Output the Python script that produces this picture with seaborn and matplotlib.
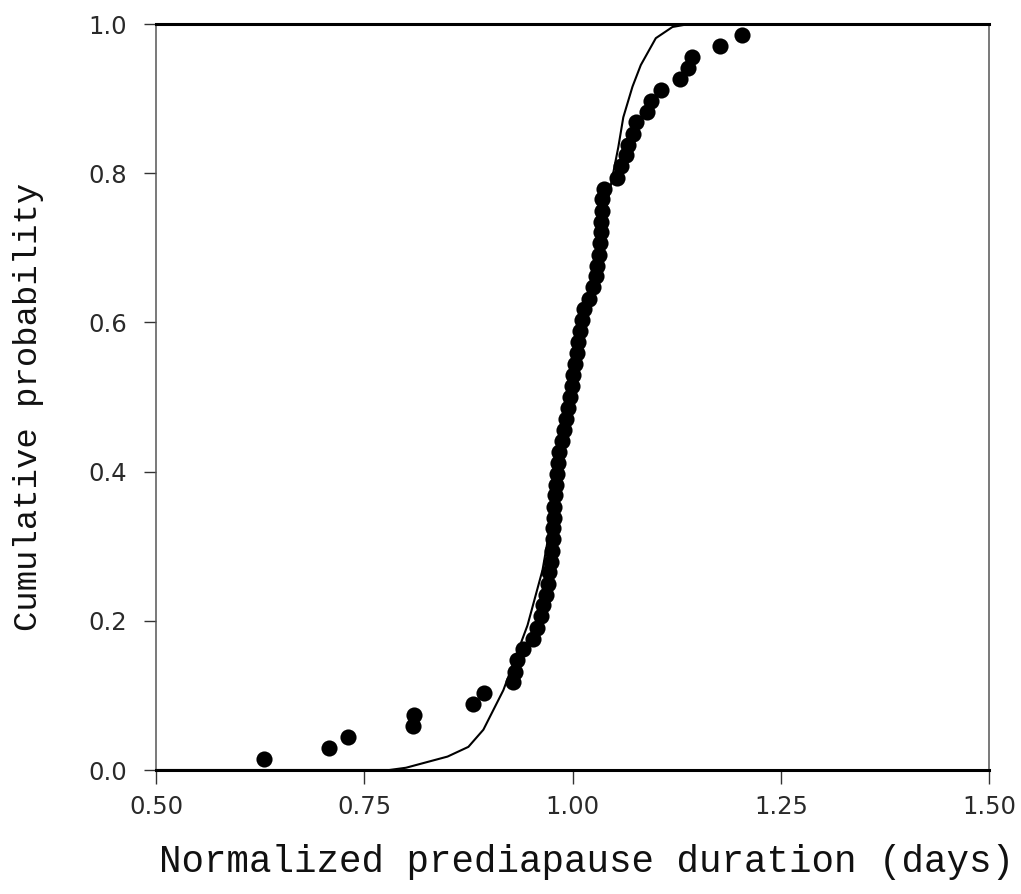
import numpy as np
import pandas as pd
import matplotlib
matplotlib.use("Agg")
import matplotlib.pyplot as plt
import seaborn as sns

# Observed normalized prediapause durations (ranked) and their cumulative probabilities
duration = [0.630, 0.708, 0.730, 0.809, 0.810, 0.880, 0.894, 0.928, 0.931, 0.933,
            0.940, 0.952, 0.957, 0.962, 0.965, 0.968, 0.970, 0.972, 0.974, 0.975,
            0.976, 0.977, 0.978, 0.978, 0.979, 0.980, 0.981, 0.982, 0.984, 0.987,
            0.990, 0.992, 0.995, 0.997, 0.999, 1.001, 1.003, 1.005, 1.007, 1.009,
            1.011, 1.014, 1.020, 1.025, 1.028, 1.030, 1.032, 1.033, 1.034, 1.034,
            1.035, 1.036, 1.038, 1.054, 1.058, 1.064, 1.067, 1.073, 1.076, 1.090,
            1.094, 1.106, 1.129, 1.139, 1.144, 1.177, 1.203]
cum_prob = [0.015, 0.029, 0.044, 0.059, 0.074, 0.088, 0.103, 0.118, 0.132, 0.147,
            0.162, 0.176, 0.191, 0.206, 0.221, 0.235, 0.250, 0.265, 0.279, 0.294,
            0.309, 0.324, 0.338, 0.353, 0.368, 0.382, 0.397, 0.412, 0.426, 0.441,
            0.456, 0.471, 0.485, 0.500, 0.515, 0.529, 0.544, 0.559, 0.574, 0.588,
            0.603, 0.618, 0.632, 0.647, 0.662, 0.676, 0.691, 0.706, 0.721, 0.735,
            0.750, 0.765, 0.779, 0.794, 0.809, 0.824, 0.838, 0.853, 0.868, 0.882,
            0.897, 0.912, 0.926, 0.941, 0.956, 0.971, 0.985]

# Fitted cumulative curve
curve_x = [0.50, 0.78, 0.80, 0.82, 0.85, 0.875, 0.893, 0.917, 0.946, 0.964, 0.98,
           1.00, 1.02, 1.04, 1.055, 1.061, 1.072, 1.082, 1.10, 1.12, 1.14, 1.50]
curve_y = [0.0, 0.0, 0.003, 0.009, 0.018, 0.031, 0.054, 0.107, 0.194, 0.268, 0.37,
           0.50, 0.63, 0.75, 0.835, 0.875, 0.916, 0.945, 0.981, 0.996, 1.0, 1.0]

x_ticks = [0.50, 0.75, 1.00, 1.25, 1.50]
x_tick_labels = ["0.50", "0.75", "1.00", "1.25", "1.50"]
y_ticks = [0.0, 0.2, 0.4, 0.6, 0.8, 1.0]
y_tick_labels = ["0.0", "0.2", "0.4", "0.6", "0.8", "1.0"]

sns.set_theme(style="white")
plt.rcParams["font.family"] = ["DejaVu Sans"]

fig = plt.figure(figsize=(10.21, 8.94), dpi=100)
ax = fig.add_axes([156 / 1021, (894 - 770) / 894, (989 - 156) / 1021, (770 - 24) / 894])

pts = pd.DataFrame({"x": duration, "y": cum_prob})
crv = pd.DataFrame({"x": curve_x, "y": curve_y})

sns.lineplot(data=crv, x="x", y="y", ax=ax, color="black", linewidth=1.5,
             sort=False, estimator=None, zorder=2)
sns.scatterplot(data=pts, x="x", y="y", ax=ax, color="black", s=135,
                edgecolor="black", linewidth=0, zorder=3)

ax.set_xlim(0.5, 1.5)
ax.set_ylim(0.0, 1.0)
ax.set_xticks(x_ticks)
ax.set_xticklabels(x_tick_labels)
ax.set_yticks(y_ticks)
ax.set_yticklabels(y_tick_labels)

ax.tick_params(axis="x", direction="out", length=10, width=1.0, color="#333333",
               labelsize=17.5, pad=8, bottom=True)
ax.tick_params(axis="y", direction="out", length=8.6, width=1.0, color="#333333",
               labelsize=17.5, pad=12, left=True)
for lab in ax.get_xticklabels() + ax.get_yticklabels():
    lab.set_color("#2a2a2a")

for side in ["top", "bottom"]:
    ax.spines[side].set_color("black")
    ax.spines[side].set_linewidth(2.2)
for side in ["left", "right"]:
    ax.spines[side].set_color("#555555")
    ax.spines[side].set_linewidth(1.1)

ax.set_xlabel("Normalized prediapause duration (days)", family=["Liberation Mono", "DejaVu Sans Mono"],
              fontsize=27, color="#111111", va="center")
ax.set_ylabel("Cumulative probability", family=["Liberation Mono", "DejaVu Sans Mono"],
              fontsize=24.4, color="#111111", va="center")
ax.xaxis.set_label_coords((586 - 156) / 833, (770 - 862) / 746)
ax.yaxis.set_label_coords((28 - 156) / 833, (770 - 407) / 746)

fig.savefig("out.png", dpi=100, facecolor="white")
